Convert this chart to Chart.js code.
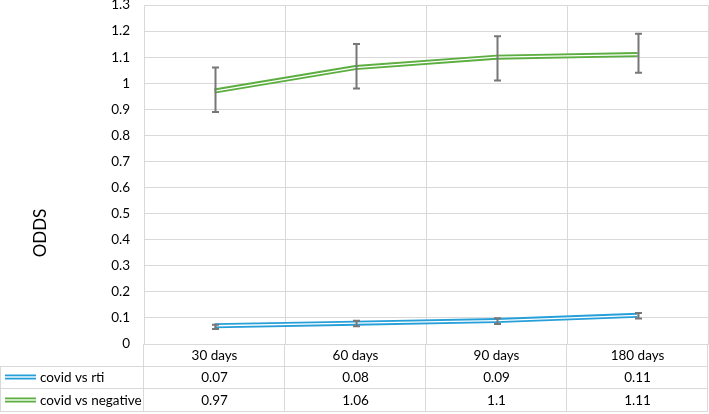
<!DOCTYPE html>
<html><head><meta charset="utf-8">
<script src="https://cdn.jsdelivr.net/npm/chart.js@4/dist/chart.umd.min.js"></script>
<style>html,body{margin:0;padding:0;background:#fff}#wrap{width:709px;height:414px;position:relative}</style>
</head><body><div id="wrap"><canvas id="c"></canvas></div>
<script>
const categories = ['30 days', '60 days', '90 days', '180 days'];
const seriesNames = ['covid vs rti', 'covid vs negative'];
const rtiValues = [0.07, 0.08, 0.09, 0.11];
const negValues = [0.97, 1.06, 1.1, 1.11];
const rtiLow = [0.058, 0.068, 0.077, 0.098];
const rtiHigh = [0.074, 0.089, 0.099, 0.119];
const negLow = [0.89, 0.98, 1.01, 1.04];
const negHigh = [1.06, 1.15, 1.18, 1.19];
const yTicks = [0, 0.1, 0.2, 0.3, 0.4, 0.5, 0.6, 0.7, 0.8, 0.9, 1, 1.1, 1.2, 1.3];

const BLUE = '#27a0da';
const GREEN = '#5bae3f';
const FONT = 'Lato, "Open Sans", sans-serif';
const GRID = '#d9d9d9';

const errorBars = {
  id: 'errorBars',
  afterDatasetsDraw(chart) {
    const ctx = chart.ctx, x = chart.scales.x, y = chart.scales.y;
    ctx.save();
    ctx.strokeStyle = '#777777';
    ctx.lineWidth = 2;
    [[rtiLow, rtiHigh], [negLow, negHigh]].forEach(([lo, hi]) => {
      categories.forEach((c, i) => {
        const px = Math.round(x.getPixelForValue(i)) + 0.5;
        const y1 = y.getPixelForValue(lo[i]), y2 = y.getPixelForValue(hi[i]);
        ctx.beginPath();
        ctx.moveTo(px, y1); ctx.lineTo(px, y2);
        ctx.moveTo(px - 3.5, y1); ctx.lineTo(px + 3.5, y1);
        ctx.moveTo(px - 3.5, y2); ctx.lineTo(px + 3.5, y2);
        ctx.stroke();
      });
    });
    ctx.restore();
  }
};

const dataTable = {
  id: 'dataTable',
  afterDraw(chart) {
    const ctx = chart.ctx, x = chart.scales.x, area = chart.chartArea;
    const top = area.bottom, r1 = top + 22, r2 = r1 + 22, bot = r2 + 24;
    const step = x.getPixelForValue(1) - x.getPixelForValue(0);
    const bounds = categories.map((c, i) => x.getPixelForValue(i) - step / 2);
    bounds.push(x.getPixelForValue(categories.length - 1) + step / 2);
    ctx.save();
    ctx.strokeStyle = '#d9d9d9';
    ctx.lineWidth = 1;
    ctx.beginPath();
    ctx.moveTo(0, r1 + 0.5); ctx.lineTo(bounds[bounds.length - 1], r1 + 0.5);
    ctx.moveTo(0, r2 + 0.5); ctx.lineTo(bounds[bounds.length - 1], r2 + 0.5);
    ctx.moveTo(0, bot - 0.5); ctx.lineTo(bounds[bounds.length - 1], bot - 0.5);
    bounds.forEach(b => { const bx = Math.round(b) - 0.5; ctx.moveTo(bx, top); ctx.lineTo(bx, bot); });
    ctx.moveTo(0.5, r1); ctx.lineTo(0.5, bot);
    ctx.stroke();

    ctx.fillStyle = '#000';
    ctx.font = '13.5px ' + FONT;
    ctx.textAlign = 'center';
    ctx.textBaseline = 'middle';
    categories.forEach((c, i) => {
      const cx = x.getPixelForValue(i);
      ctx.fillText(c, cx, (top + r1) / 2 + 1);
      ctx.fillText(String(rtiValues[i]), cx, (r1 + r2) / 2 + 1);
      ctx.fillText(String(negValues[i]), cx, (r2 + bot) / 2 + 1);
    });
    [[BLUE, (r1 + r2) / 2, seriesNames[0]], [GREEN, (r2 + bot) / 2, seriesNames[1]]].forEach(([col, cy, name]) => {
      ctx.strokeStyle = col;
      ctx.lineWidth = 5;
      ctx.beginPath(); ctx.moveTo(5, cy); ctx.lineTo(36, cy); ctx.stroke();
      ctx.strokeStyle = '#fff';
      ctx.lineWidth = 1.4;
      ctx.beginPath(); ctx.moveTo(5, cy); ctx.lineTo(36, cy); ctx.stroke();
      ctx.fillStyle = '#000';
      ctx.textAlign = 'left';
      ctx.fillText(name, 40, cy + 1);
    });
    ctx.save();
    ctx.translate(41, 233);
    ctx.rotate(-Math.PI / 2);
    ctx.textAlign = 'center';
    ctx.font = '17px ' + FONT;
    ctx.fillText('ODDS', 0, 0);
    ctx.restore();
    ctx.restore();
  }
};

function lineDs(label, data, color, width) {
  return { label, data, borderColor: color, borderWidth: width, pointRadius: 0, pointHoverRadius: 0, tension: 0, fill: false };
}

new Chart(document.getElementById('c'), {
  type: 'line',
  data: {
    labels: categories,
    datasets: [
      lineDs(seriesNames[0] + ' inner', rtiValues, '#ffffff', 1.3),
      lineDs(seriesNames[0], rtiValues, BLUE, 5),
      lineDs(seriesNames[1] + ' inner', negValues, '#ffffff', 1.3),
      lineDs(seriesNames[1], negValues, GREEN, 5)
    ]
  },
  options: {
    responsive: true,
    maintainAspectRatio: false,
    animation: false,
    events: [],
    layout: { padding: { top: 5, right: 1, bottom: 70, left: 0 } },
    plugins: { legend: { display: false }, tooltip: { enabled: false } },
    scales: {
      x: {
        offset: true,
        grid: { offset: true, color: GRID, drawTicks: false },
        border: { color: '#d9d9d9' },
        ticks: { display: false },
        afterFit(s) { s.paddingTop = 0; s.paddingBottom = 0; s.paddingLeft = 0; s.paddingRight = 0; }
      },
      y: {
        min: 0, max: 1.3,
        afterBuildTicks(s) { s.ticks = yTicks.map(v => ({ value: v })); },
        afterFit(s) { s.width = 144; s.paddingTop = 0; s.paddingBottom = 0; },
        grid: { color: GRID, drawTicks: false },
        border: { display: false },
        ticks: {
          padding: 14,
          color: '#000',
          font: { family: FONT, size: 13.5 },
          callback: v => String(Number(v.toFixed(1)))
        }
      }
    }
  },
  plugins: [errorBars, dataTable]
});
</script>
</body></html>
